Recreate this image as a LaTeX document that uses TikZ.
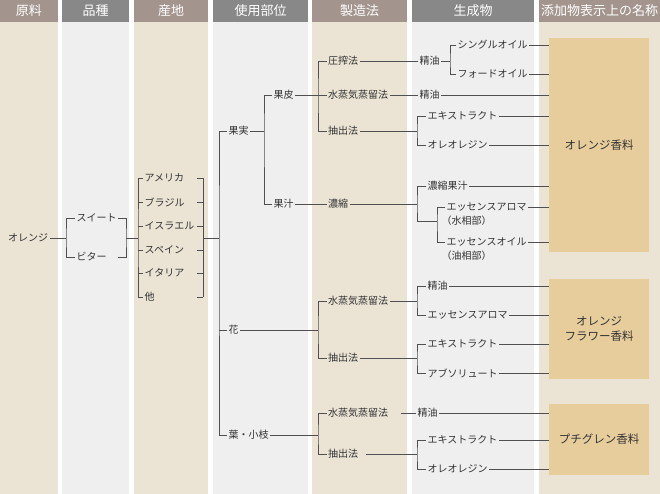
\documentclass[tikz,border=0pt]{standalone}
\usepackage{fontspec}
\setmainfont{Noto Sans CJK JP}
\definecolor{beigebody}{HTML}{EBE4D4}
\definecolor{graybody}{HTML}{EFEFEF}
\definecolor{beigehead}{HTML}{A3958D}
\definecolor{grayhead}{HTML}{888888}
\definecolor{boxfill}{HTML}{E8CD9C}
\definecolor{txt}{HTML}{333333}
\definecolor{wire}{HTML}{505050}
\tikzset{
  head/.style={text=white, font=\fontsize{13}{15}\selectfont, minimum height=22pt, inner sep=0pt},
  lab/.style={anchor=west, inner sep=1.5pt, text=txt, font=\fontsize{10}{12}\selectfont},
  namebox/.style={fill=boxfill, text=txt, align=center, font=\fontsize{11.5}{15}\selectfont, minimum width=100pt, inner sep=0pt}
}
\begin{document}
\begin{tikzpicture}[x=1pt,y=-1pt]
\useasboundingbox (0,0) rectangle (660,494);
\fill[white] (0,0) rectangle (660,494);
\begin{scope}
  \fill[beigebody] (0,22) rectangle (58,494);
  \fill[graybody] (62,22) rectangle (129,494);
  \fill[beigebody] (134,22) rectangle (208,494);
  \fill[graybody] (213,22) rectangle (308,494);
  \fill[beigebody] (312,22) rectangle (407,494);
  \fill[graybody] (412,22) rectangle (534,494);
  \fill[beigebody] (539,22) rectangle (660,494);
\end{scope}
\begin{scope}[every node/.style={head}]
  \node[fill=beigehead, minimum width=58pt] (hA) at (29,11) {原料};
  \node[fill=grayhead, minimum width=67pt] (hB) at (95.5,11) {品種};
  \node[fill=beigehead, minimum width=74pt] (hC) at (171,11) {産地};
  \node[fill=grayhead, minimum width=95pt] (hD) at (260.5,11) {使用部位};
  \node[fill=beigehead, minimum width=95pt] (hE) at (359.5,11) {製造法};
  \node[fill=grayhead, minimum width=122pt] (hF) at (473,11) {生成物};
  \node[fill=beigehead, minimum width=121pt] (hG) at (599.5,11) {添加物表示上の名称};
\end{scope}
\begin{scope}[every node/.style={namebox}]
  \node[minimum height=214pt] (box1) at (599,145) {オレンジ香料};
  \node[minimum height=100pt] (box2) at (599,329) {オレンジ\\フラワー香料};
  \node[minimum height=71pt] (box3) at (599,439.5) {プチグレン香料};
\end{scope}
\begin{scope}[every node/.style={lab}]
  \node (orange) at (6.5,238) {オレンジ};
  \node (sweet) at (75,218) {スイート};
  \node (bitter) at (75,257) {ビター};
  \node (usa) at (143,178) {アメリカ};
  \node (brazil) at (143,202) {ブラジル};
  \node (israel) at (143,226) {イスラエル};
  \node (spain) at (143,250) {スペイン};
  \node (italy) at (143,273) {イタリア};
  \node (other) at (143,297) {他};
  \node (fruit) at (227,131) {果実};
  \node (flower) at (227,330) {花};
  \node (leaf) at (227,435) {葉・小枝};
  \node (peel) at (272,95) {果皮};
  \node (juice) at (272,204) {果汁};
  \node (press) at (326.5,61) {圧搾法};
  \node (steam1) at (326.5,95) {水蒸気蒸留法};
  \node (ext1) at (326.5,131) {抽出法};
  \node (conc) at (326.5,204) {濃縮};
  \node (steam2) at (326.5,301) {水蒸気蒸留法};
  \node (ext2) at (326.5,358) {抽出法};
  \node (steam3) at (326.5,413) {水蒸気蒸留法};
  \node (ext3) at (326.5,454) {抽出法};
  \node (oil1) at (418,61) {精油};
  \node (single) at (456,45) {シングルオイル};
  \node (ford) at (456,74) {フォードオイル};
  \node (oil2) at (418,95) {精油};
  \node (ex1) at (426,116) {エキストラクト};
  \node (oleo1) at (426,145) {オレオレジン};
  \node (cjuice) at (426,186) {濃縮果汁};
  \node (aroma1) at (445,207) {エッセンスアロマ};
  \node (aqua) at (440,221) {（水相部）};
  \node (eoil) at (445,242) {エッセンスオイル};
  \node (oilph) at (440,256) {（油相部）};
  \node (oil3) at (426,286) {精油};
  \node (aroma2) at (426,315) {エッセンスアロマ};
  \node (ex2) at (426,344) {エキストラクト};
  \node (abs) at (426,373) {アブソリュート};
  \node (oil4) at (416,413) {精油};
  \node (ex3) at (426,440) {エキストラクト};
  \node (oleo3) at (426,469) {オレオレジン};
\end{scope}
\coordinate (jVar) at (66,238);
\coordinate (jVarR) at (126,238);
\coordinate (jOri) at (138,238);
\coordinate (jOriR) at (203,238);
\coordinate (jPart) at (219,238);
\coordinate (jFruit) at (264,131);
\coordinate (jPeel) at (318,95);
\coordinate (jOil1) at (450,61);
\coordinate (jExt1) at (417,131);
\coordinate (jConc) at (417,204);
\coordinate (jEss) at (437,221);
\coordinate (jFlower) at (318,330);
\coordinate (jSt2) at (417,301);
\coordinate (jEx2) at (417,358);
\coordinate (jLeaf) at (318,435);
\coordinate (gSt3) at (401,413);
\coordinate (gEx3) at (366,454);
\coordinate (jEx3) at (417,454);
\begin{scope}[every path/.style={draw=wire, line width=0.8pt}]
  \path (orange.east) -- (jVar);
  \path (sweet.west) -| (jVar) |- (bitter.west);
  \path ([xshift=-8pt]jVarR |- sweet) -| (jVarR) |- ([xshift=-8pt]jVarR |- bitter);
  \path (jVarR) -- (jOri);
  \path (usa.west) -| (jOri) |- (other.west);
  \foreach \n in {brazil,israel,spain,italy}
    \path (jOri |- \n) -- (\n.west);
  \foreach \n in {usa,brazil,israel,spain,italy,other}
    \path ([xshift=-6pt]jOriR |- \n) -- (jOriR |- \n);
  \path (jOriR |- usa) -- (jOriR |- other);
  \path (jOriR) -- (jPart);
  \path (fruit.west) -| (jPart) |- (leaf.west);
  \path (jPart |- flower) -- (flower.west);
  \path (fruit.east) -- (jFruit);
  \path (peel.west) -| (jFruit) |- (juice.west);
  \path (peel.east) -- (jPeel);
  \path (press.west) -| (jPeel) |- (ext1.west);
  \path (jPeel) -- (steam1.west);
  \path (press.east) -- (oil1.west);
  \path (oil1.east) -- (jOil1);
  \path (single.west) -| (jOil1) |- (ford.west);
  \path (steam1.east) -- (oil2.west);
  \path (ext1.east) -- (jExt1);
  \path (ex1.west) -| (jExt1) |- (oleo1.west);
  \path (juice.east) -- (conc.west);
  \path (conc.east) -- (jConc);
  \path (cjuice.west) -| (jConc) |- (jEss);
  \path (aroma1.west) -| (jEss) |- (eoil.west);
  \path (flower.east) -- (jFlower);
  \path (steam2.west) -| (jFlower) |- (ext2.west);
  \path (steam2.east) -- (jSt2);
  \path (oil3.west) -| (jSt2) |- (aroma2.west);
  \path (ext2.east) -- (jEx2);
  \path (ex2.west) -| (jEx2) |- (abs.west);
  \path (leaf.east) -- (jLeaf);
  \path (steam3.west) -| (jLeaf) |- (ext3.west);
  \path (gSt3) -- (oil4.west);
  \path (gEx3) -- (jEx3);
  \path (ex3.west) -| (jEx3) |- (oleo3.west);
  \foreach \n in {single,ford,oil2,ex1,oleo1,cjuice,aroma1,eoil}
    \path (\n.east) -- (\n.east -| box1.west);
  \foreach \n in {oil3,aroma2,ex2,abs}
    \path (\n.east) -- (\n.east -| box2.west);
  \foreach \n in {oil4,ex3,oleo3}
    \path (\n.east) -- (\n.east -| box3.west);
\end{scope}
\end{tikzpicture}
\end{document}
